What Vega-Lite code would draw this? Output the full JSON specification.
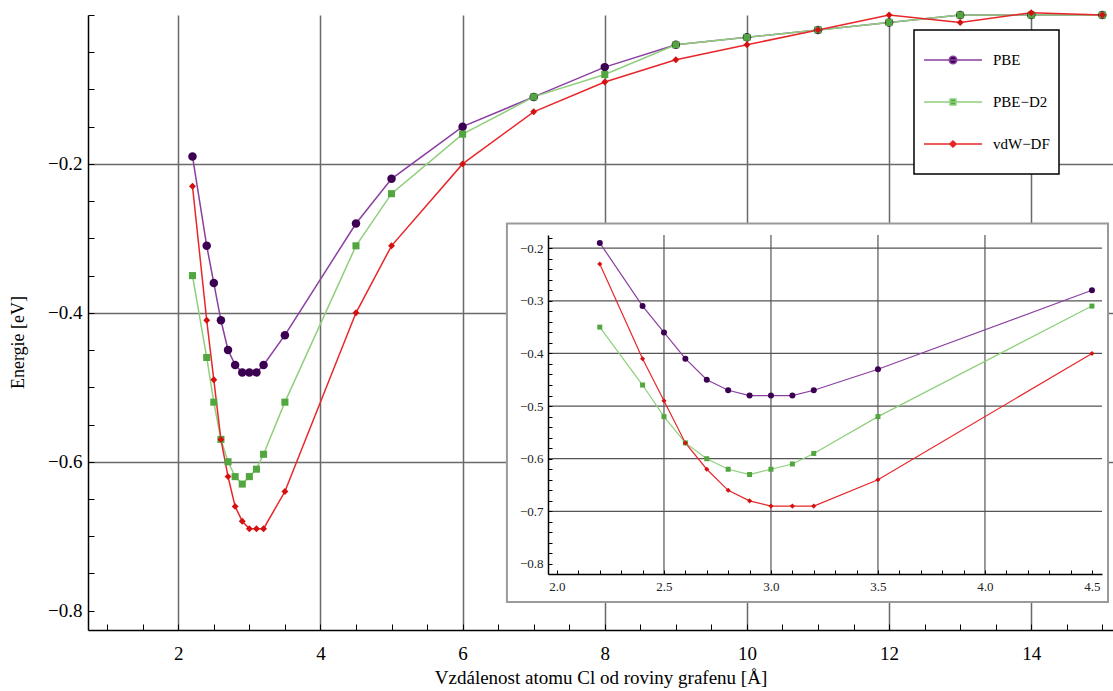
{
  "$schema": "https://vega.github.io/schema/vega-lite/v6.json",
  "width": 1025,
  "height": 615,
  "autosize": "none",
  "padding": {"left": 88, "top": 15, "right": 0, "bottom": 61},
  "background": "white",
  "config": {
    "view": {"stroke": null},
    "font": "Liberation Serif",
    "axis": {"labelFont": "Liberation Serif", "titleFont": "Liberation Serif", "labelColor": "black", "titleColor": "black", "tickColor": "black", "domainColor": "black", "titleFontWeight": "normal", "labelFlush": false, "labelOverlap": false}
  },
  "data": {"values": [
    {"m": "PBE", "x": 2.2, "E": -0.19}, {"m": "PBE", "x": 2.4, "E": -0.31}, {"m": "PBE", "x": 2.5, "E": -0.36}, {"m": "PBE", "x": 2.6, "E": -0.41}, {"m": "PBE", "x": 2.7, "E": -0.45}, {"m": "PBE", "x": 2.8, "E": -0.47}, {"m": "PBE", "x": 2.9, "E": -0.48}, {"m": "PBE", "x": 3.0, "E": -0.48}, {"m": "PBE", "x": 3.1, "E": -0.48}, {"m": "PBE", "x": 3.2, "E": -0.47}, {"m": "PBE", "x": 3.5, "E": -0.43}, {"m": "PBE", "x": 4.5, "E": -0.28}, {"m": "PBE", "x": 5, "E": -0.22}, {"m": "PBE", "x": 6, "E": -0.15}, {"m": "PBE", "x": 7, "E": -0.11}, {"m": "PBE", "x": 8, "E": -0.07}, {"m": "PBE", "x": 9, "E": -0.04}, {"m": "PBE", "x": 10, "E": -0.03}, {"m": "PBE", "x": 11, "E": -0.02}, {"m": "PBE", "x": 12, "E": -0.01}, {"m": "PBE", "x": 13, "E": 0.0}, {"m": "PBE", "x": 14, "E": 0.0}, {"m": "PBE", "x": 15, "E": 0.0},
    {"m": "PBE−D2", "x": 2.2, "E": -0.35}, {"m": "PBE−D2", "x": 2.4, "E": -0.46}, {"m": "PBE−D2", "x": 2.5, "E": -0.52}, {"m": "PBE−D2", "x": 2.6, "E": -0.57}, {"m": "PBE−D2", "x": 2.7, "E": -0.60}, {"m": "PBE−D2", "x": 2.8, "E": -0.62}, {"m": "PBE−D2", "x": 2.9, "E": -0.63}, {"m": "PBE−D2", "x": 3.0, "E": -0.62}, {"m": "PBE−D2", "x": 3.1, "E": -0.61}, {"m": "PBE−D2", "x": 3.2, "E": -0.59}, {"m": "PBE−D2", "x": 3.5, "E": -0.52}, {"m": "PBE−D2", "x": 4.5, "E": -0.31}, {"m": "PBE−D2", "x": 5, "E": -0.24}, {"m": "PBE−D2", "x": 6, "E": -0.16}, {"m": "PBE−D2", "x": 7, "E": -0.11}, {"m": "PBE−D2", "x": 8, "E": -0.08}, {"m": "PBE−D2", "x": 9, "E": -0.04}, {"m": "PBE−D2", "x": 10, "E": -0.03}, {"m": "PBE−D2", "x": 11, "E": -0.02}, {"m": "PBE−D2", "x": 12, "E": -0.01}, {"m": "PBE−D2", "x": 13, "E": 0.0}, {"m": "PBE−D2", "x": 14, "E": 0.0}, {"m": "PBE−D2", "x": 15, "E": 0.0},
    {"m": "vdW−DF", "x": 2.2, "E": -0.23}, {"m": "vdW−DF", "x": 2.4, "E": -0.41}, {"m": "vdW−DF", "x": 2.5, "E": -0.49}, {"m": "vdW−DF", "x": 2.6, "E": -0.57}, {"m": "vdW−DF", "x": 2.7, "E": -0.62}, {"m": "vdW−DF", "x": 2.8, "E": -0.66}, {"m": "vdW−DF", "x": 2.9, "E": -0.68}, {"m": "vdW−DF", "x": 3.0, "E": -0.69}, {"m": "vdW−DF", "x": 3.1, "E": -0.69}, {"m": "vdW−DF", "x": 3.2, "E": -0.69}, {"m": "vdW−DF", "x": 3.5, "E": -0.64}, {"m": "vdW−DF", "x": 4.5, "E": -0.40}, {"m": "vdW−DF", "x": 5, "E": -0.31}, {"m": "vdW−DF", "x": 6, "E": -0.20}, {"m": "vdW−DF", "x": 7, "E": -0.13}, {"m": "vdW−DF", "x": 8, "E": -0.09}, {"m": "vdW−DF", "x": 9, "E": -0.06}, {"m": "vdW−DF", "x": 10, "E": -0.04}, {"m": "vdW−DF", "x": 11, "E": -0.02}, {"m": "vdW−DF", "x": 12, "E": 0.0}, {"m": "vdW−DF", "x": 13, "E": -0.01}, {"m": "vdW−DF", "x": 14, "E": 0.003}, {"m": "vdW−DF", "x": 15, "E": 0.0}
  ]},
  "layer": [
    {
      "encoding": {
        "x": {"field": "x", "type": "quantitative",
          "scale": {"domain": [0.73, 15.15], "nice": false, "zero": false},
          "axis": {"title": "Vzdálenost atomu Cl od roviny grafenu [Å]",
            "values": [1, 1.5, 2, 2.5, 3, 3.5, 4, 4.5, 5, 5.5, 6, 6.5, 7, 7.5, 8, 8.5, 9, 9.5, 10, 10.5, 11, 11.5, 12, 12.5, 13, 13.5, 14, 14.5, 15],
            "grid": true, "gridColor": "#6a6a6a", "gridWidth": 1.5,
            "gridOpacity": {"condition": {"test": "datum.value % 2 === 0", "value": 1}, "value": 0},
            "labelExpr": "datum.value % 2 === 0 ? format(datum.value, 'd') : ''",
            "tickSize": -6, "tickWidth": 1, "domainWidth": 1.5,
            "labelFontSize": 19, "labelPadding": 20, "titleFontSize": 19, "titlePadding": 5}},
        "y": {"field": "E", "type": "quantitative",
          "scale": {"domain": [-0.826, 0.0], "nice": false, "zero": false},
          "axis": {"title": "Energie [eV]",
            "values": [-0.8, -0.75, -0.7, -0.65, -0.6, -0.55, -0.5, -0.45, -0.4, -0.35, -0.3, -0.25, -0.2, -0.15, -0.1, -0.05, 0],
            "grid": true, "gridColor": "#6a6a6a", "gridWidth": 1.5,
            "gridOpacity": {"condition": {"test": "abs(datum.value*5 - round(datum.value*5)) < 1e-6 && datum.value < -0.01 && datum.value > -0.7", "value": 1}, "value": 0},
            "labelExpr": "abs(datum.value*5 - round(datum.value*5)) < 1e-6 && datum.value < -0.01 ? format(datum.value, '.1f') : ''",
            "tickSize": -6, "tickWidth": 1, "domainWidth": 1.5,
            "labelFontSize": 19, "labelPadding": 12, "titleFontSize": 18, "titlePadding": 20, "titleY": 327}}
      },
      "layer": [
        {"mark": {"type": "line", "strokeWidth": 1.5},
          "encoding": {"stroke": {"field": "m", "type": "nominal",
            "scale": {"domain": ["PBE", "PBE−D2", "vdW−DF"], "range": ["#8a3fa0", "#8fcf7c", "#e8262a"]},
            "legend": {"orient": "none", "legendX": 826, "legendY": 15, "title": null,
              "strokeColor": "black", "fillColor": "white", "padding": 9,
              "symbolSize": 3364, "symbolStrokeWidth": 1.5, "rowPadding": 0, "clipHeight": 42,
              "labelFont": "Liberation Serif", "labelFontSize": 15, "labelOffset": 10, "labelColor": "black",
              "encode": {
                "legend": {"update": {"strokeWidth": {"value": 1.5}}},
                "symbols": {"update": {
                "shape": {"signal": "datum.value === 'PBE' ? 'M-1,0H1M0.13,0A0.13,0.13 0 1,1 -0.13,0A0.13,0.13 0 1,1 0.13,0Z' : datum.value === 'PBE−D2' ? 'M-1,0H1M-0.1,-0.1H0.1V0.1H-0.1Z' : 'M-1,0H1M0,-0.1L0.11,0L0,0.1L-0.11,0Z'"},
                "fill": {"signal": "datum.value === 'PBE' ? '#3c0052' : datum.value === 'PBE−D2' ? '#52a63f' : '#d41010'"}
              }}}}}}},
        {"transform": [{"filter": "datum.m === 'PBE'"}],
          "mark": {"type": "point", "shape": "circle", "filled": true, "opacity": 1, "size": 72, "color": "#3c0052"}},
        {"transform": [{"filter": "datum.m === 'PBE−D2'"}],
          "mark": {"type": "point", "shape": "square", "filled": true, "opacity": 1, "size": 50, "color": "#52a63f"}},
        {"transform": [{"filter": "datum.m === 'vdW−DF'"}],
          "mark": {"type": "point", "shape": "diamond", "filled": true, "opacity": 1, "size": 48, "color": "#d41010"}}
      ]
    },
    {
      "resolve": {"scale": {"x": "independent", "y": "independent"}},
      "layer": [
        {"transform": [{"aggregate": [{"op": "count", "as": "n"}]}],
          "mark": {"type": "rect", "fill": "white", "stroke": "#9a9a9a", "strokeWidth": 2},
          "encoding": {
            "x": {"datum": 1.766, "type": "quantitative", "scale": {"domain": [1.958, 4.547], "range": [460, 1014], "nice": false, "zero": false}, "axis": null},
            "x2": {"datum": 4.575},
            "y": {"datum": -0.153, "type": "quantitative", "scale": {"domain": [-0.819, -0.175], "range": [559, 220], "nice": false, "zero": false}, "axis": null},
            "y2": {"datum": -0.872}}},
        {"transform": [{"aggregate": [{"op": "count", "as": "n"}]}],
          "encoding": {
            "y": {"datum": -0.819, "type": "quantitative", "scale": {"domain": [-0.819, -0.175], "range": [559, 220], "nice": false, "zero": false}, "axis": null},
            "y2": {"datum": -0.175}},
          "layer": [
            {"mark": {"type": "rule", "color": "#555555", "strokeWidth": 1.2},
              "encoding": {"x": {"datum": 2.5, "type": "quantitative", "scale": {"domain": [1.958, 4.547], "range": [460, 1014], "nice": false, "zero": false}, "axis": null}}},
            {"mark": {"type": "rule", "color": "#555555", "strokeWidth": 1.2},
              "encoding": {"x": {"datum": 3.0, "type": "quantitative", "scale": {"domain": [1.958, 4.547], "range": [460, 1014], "nice": false, "zero": false}, "axis": null}}},
            {"mark": {"type": "rule", "color": "#555555", "strokeWidth": 1.2},
              "encoding": {"x": {"datum": 3.5, "type": "quantitative", "scale": {"domain": [1.958, 4.547], "range": [460, 1014], "nice": false, "zero": false}, "axis": null}}},
            {"mark": {"type": "rule", "color": "#555555", "strokeWidth": 1.2},
              "encoding": {"x": {"datum": 4.0, "type": "quantitative", "scale": {"domain": [1.958, 4.547], "range": [460, 1014], "nice": false, "zero": false}, "axis": null}}}
          ]},
        {"transform": [{"aggregate": [{"op": "count", "as": "n"}]}],
          "encoding": {
            "x": {"datum": 1.958, "type": "quantitative", "scale": {"domain": [1.958, 4.547], "range": [460, 1014], "nice": false, "zero": false}, "axis": null},
            "x2": {"datum": 4.547}},
          "layer": [
            {"mark": {"type": "rule", "color": "#555555", "strokeWidth": 1.2},
              "encoding": {"y": {"datum": -0.2, "type": "quantitative", "scale": {"domain": [-0.819, -0.175], "range": [559, 220], "nice": false, "zero": false}, "axis": null}}},
            {"mark": {"type": "rule", "color": "#555555", "strokeWidth": 1.2},
              "encoding": {"y": {"datum": -0.3, "type": "quantitative", "scale": {"domain": [-0.819, -0.175], "range": [559, 220], "nice": false, "zero": false}, "axis": null}}},
            {"mark": {"type": "rule", "color": "#555555", "strokeWidth": 1.2},
              "encoding": {"y": {"datum": -0.4, "type": "quantitative", "scale": {"domain": [-0.819, -0.175], "range": [559, 220], "nice": false, "zero": false}, "axis": null}}},
            {"mark": {"type": "rule", "color": "#555555", "strokeWidth": 1.2},
              "encoding": {"y": {"datum": -0.5, "type": "quantitative", "scale": {"domain": [-0.819, -0.175], "range": [559, 220], "nice": false, "zero": false}, "axis": null}}},
            {"mark": {"type": "rule", "color": "#555555", "strokeWidth": 1.2},
              "encoding": {"y": {"datum": -0.6, "type": "quantitative", "scale": {"domain": [-0.819, -0.175], "range": [559, 220], "nice": false, "zero": false}, "axis": null}}},
            {"mark": {"type": "rule", "color": "#555555", "strokeWidth": 1.2},
              "encoding": {"y": {"datum": -0.7, "type": "quantitative", "scale": {"domain": [-0.819, -0.175], "range": [559, 220], "nice": false, "zero": false}, "axis": null}}}
          ]},
        {"transform": [{"filter": "datum.x <= 4.5"}],
          "encoding": {
            "x": {"field": "x", "type": "quantitative",
              "scale": {"domain": [1.958, 4.547], "range": [460, 1014], "nice": false, "zero": false},
              "axis": {"title": null, "orient": "bottom", "offset": -56, "zindex": 1, "grid": false,
                "values": [2, 2.1, 2.2, 2.3, 2.4, 2.5, 2.6, 2.7, 2.8, 2.9, 3, 3.1, 3.2, 3.3, 3.4, 3.5, 3.6, 3.7, 3.8, 3.9, 4, 4.1, 4.2, 4.3, 4.4, 4.5],
                "labelExpr": "abs(datum.value*2 - round(datum.value*2)) < 1e-6 ? format(datum.value, '.1f') : ''",
                "tickSize": -4, "tickWidth": 1, "domainWidth": 1.5,
                "labelFontSize": 13, "labelPadding": 10, "labelColor": "#222222"}},
            "y": {"field": "E", "type": "quantitative",
              "scale": {"domain": [-0.819, -0.175], "range": [559, 220], "nice": false, "zero": false},
              "axis": {"title": null, "orient": "left", "offset": -460, "zindex": 1, "grid": false,
                "values": [-0.8, -0.78, -0.76, -0.74, -0.72, -0.7, -0.68, -0.66, -0.64, -0.62, -0.6, -0.58, -0.56, -0.54, -0.52, -0.5, -0.48, -0.46, -0.44, -0.42, -0.4, -0.38, -0.36, -0.34, -0.32, -0.3, -0.28, -0.26, -0.24, -0.22, -0.2, -0.18],
                "labelExpr": "abs(datum.value*10 - round(datum.value*10)) < 1e-6 ? format(datum.value, '.1f') : ''",
                "tickSize": -4, "tickWidth": 1, "domainWidth": 1.5,
                "labelFontSize": 13, "labelPadding": 9, "labelColor": "#222222"}}
          },
          "layer": [
            {"mark": {"type": "line", "strokeWidth": 1.2},
              "encoding": {"stroke": {"field": "m", "type": "nominal"}}},
            {"transform": [{"filter": "datum.m === 'PBE'"}],
              "mark": {"type": "point", "shape": "circle", "filled": true, "opacity": 1, "size": 36, "color": "#3c0052"}},
            {"transform": [{"filter": "datum.m === 'PBE−D2'"}],
              "mark": {"type": "point", "shape": "square", "filled": true, "opacity": 1, "size": 25, "color": "#52a63f"}},
            {"transform": [{"filter": "datum.m === 'vdW−DF'"}],
              "mark": {"type": "point", "shape": "diamond", "filled": true, "opacity": 1, "size": 26, "color": "#d41010"}}
          ]
        }
      ]
    }
  ],
  "resolve": {"scale": {"x": "independent", "y": "independent"}}
}
